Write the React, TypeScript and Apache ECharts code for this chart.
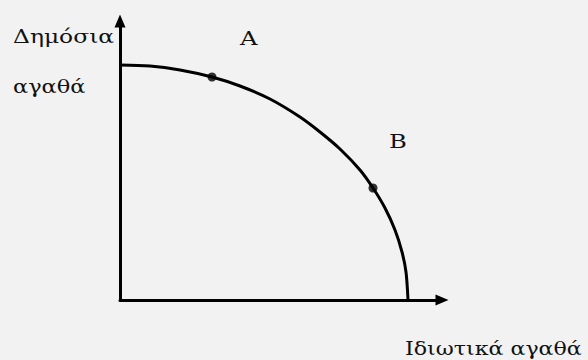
import React, { useEffect, useRef } from "react";
import * as echarts from "echarts";

// Curve (x = private goods, y = public goods)
const curveX = [0, 30, 60, 92, 120, 150, 180, 200, 220, 240, 253, 265, 275, 282, 286, 288];
const curveY = [235, 234, 230, 223, 214, 201, 183, 168, 151, 130, 112, 92, 70, 48, 28, 0];
const pointNames = ["A", "B"];
const pointX = [92, 253];
const pointY = [223, 112];
const yLabelLines = ["Δημόσια", "αγαθά"];
const xLabel = "Ιδιωτικά αγαθά";
const xMax = 322;
const yMax = 279;

export default function App() {
  const ref = useRef<HTMLDivElement>(null);
  useEffect(() => {
    document.body.style.margin = "0";
    const chart = echarts.init(ref.current!, null, { renderer: "svg" });
    const txt = (text: string, x: number, y: number, sx: number) => ({
      type: "text",
      x,
      y,
      scaleX: sx,
      style: {
        text,
        fontFamily: "DejaVu Serif",
        fontSize: 18,
        fill: "#111",
        verticalAlign: "middle",
        align: "left",
      },
    });
    chart.setOption({
      animation: false,
      backgroundColor: "#f2f2f2",
      grid: { left: 120, top: 21, width: 322, height: 279 },
      xAxis: {
        type: "value",
        min: 0,
        max: xMax,
        axisLine: {
          show: true,
          lineStyle: { color: "#000", width: 3 },
          symbol: ["none", "triangle"],
          symbolSize: [11, 13],
        },
        axisTick: { show: false },
        axisLabel: { show: false },
        splitLine: { show: false },
      },
      yAxis: {
        type: "value",
        min: 0,
        max: yMax,
        axisLine: {
          show: true,
          lineStyle: { color: "#000", width: 3 },
          symbol: ["none", "triangle"],
          symbolSize: [11, 13],
        },
        axisTick: { show: false },
        axisLabel: { show: false },
        splitLine: { show: false },
      },
      series: [
        {
          type: "line",
          data: curveX.map((x, i) => [x, curveY[i]]),
          smooth: 0.3,
          showSymbol: false,
          lineStyle: { color: "#000", width: 3 },
          z: 3,
        },
        {
          type: "scatter",
          data: pointX.map((x, i) => ({ name: pointNames[i], value: [x, pointY[i]] })),
          symbolSize: 9,
          itemStyle: { color: "#000" },
          z: 4,
        },
      ],
      graphic: [
        txt(yLabelLines[0], 13, 37, 1.3),
        txt(yLabelLines[1], 13, 87, 1.25),
        txt(pointNames[0], 240, 38.5, 1.35),
        txt(pointNames[1], 389, 141.5, 1.35),
        txt(xLabel, 405, 348.5, 1.23),
      ],
    });
    return () => chart.dispose();
  }, []);
  return <div ref={ref} style={{ width: 588, height: 360 }} />;
}
